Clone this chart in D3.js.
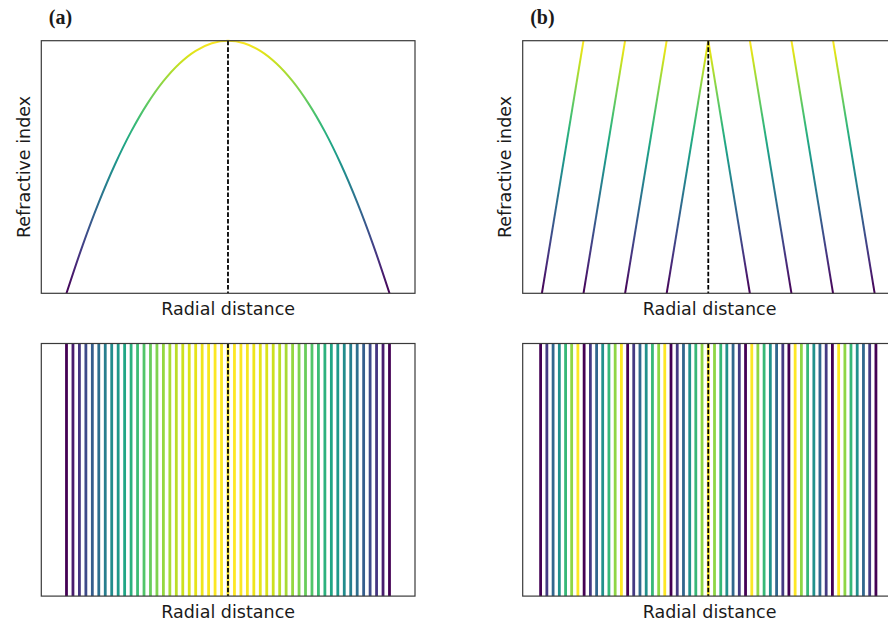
<!DOCTYPE html>
<html>
<head>
<meta charset="utf-8">
<script src="https://cdn.jsdelivr.net/npm/d3@7"></script>
<style>
  body { margin: 0; background: #fff; }
</style>
</head>
<body>
<div id="chart"></div>
<script>
// (a) graded-index profile, sampled along the radius
const profileR = [-1, -0.9, -0.8, -0.7, -0.6, -0.5, -0.4, -0.3, -0.2, -0.1, 0,
                  0.1, 0.2, 0.3, 0.4, 0.5, 0.6, 0.7, 0.8, 0.9, 1]
const profileN = [0, 0.19, 0.36, 0.51, 0.64, 0.75, 0.84, 0.91, 0.96, 0.99, 1,
                  0.99, 0.96, 0.91, 0.84, 0.75, 0.64, 0.51, 0.36, 0.19, 0]

// (b) fresnel-style zones: each zone is one straight ramp
const zoneFrom = [-1.04, -0.78, -0.52, -0.26, 0, 0.26, 0.52, 0.78]
const zoneTo   = [-0.78, -0.52, -0.26, 0, 0.26, 0.52, 0.78, 1.04]
const zoneFromN = [0, 0, 0, 0, 1, 1, 1, 1]
const zoneToN   = [1, 1, 1, 1, 0, 0, 0, 0]

// stripes for the lower panels
const stripeRa = [-1.00, -0.96, -0.92, -0.88, -0.84, -0.80, -0.76, -0.72, -0.68, -0.64, -0.60, -0.56, -0.52,
                  -0.48, -0.44, -0.40, -0.36, -0.32, -0.28, -0.24, -0.20, -0.16, -0.12, -0.08, -0.04, 0,
                  0.04, 0.08, 0.12, 0.16, 0.20, 0.24, 0.28, 0.32, 0.36, 0.40, 0.44, 0.48, 0.52,
                  0.56, 0.60, 0.64, 0.68, 0.72, 0.76, 0.80, 0.84, 0.88, 0.92, 0.96, 1.00]
const stripeNa = [0, 0.078, 0.154, 0.226, 0.294, 0.36, 0.422, 0.482, 0.538, 0.59, 0.64, 0.686, 0.73,
                  0.77, 0.806, 0.84, 0.87, 0.898, 0.922, 0.942, 0.96, 0.974, 0.986, 0.994, 0.998, 1,
                  0.998, 0.994, 0.986, 0.974, 0.96, 0.942, 0.922, 0.898, 0.87, 0.84, 0.806, 0.77, 0.73,
                  0.686, 0.64, 0.59, 0.538, 0.482, 0.422, 0.36, 0.294, 0.226, 0.154, 0.078, 0]

const stripeRb = [-1.048, -1.009, -0.970, -0.931, -0.892, -0.854, -0.815, -0.776, -0.737, -0.698,
                  -0.660, -0.621, -0.582, -0.543, -0.504, -0.466, -0.427, -0.388, -0.349, -0.310,
                  -0.272, -0.233, -0.194, -0.155, -0.116, -0.078, -0.039, 0,
                  0.039, 0.078, 0.116, 0.155, 0.194, 0.233, 0.272, 0.310, 0.349, 0.388,
                  0.427, 0.466, 0.504, 0.543, 0.582, 0.621, 0.660, 0.698, 0.737, 0.776,
                  0.815, 0.854, 0.892, 0.931, 0.970, 1.009, 1.048]
const stripeNb = [0, 0.17, 0.33, 0.5, 0.67, 0.83, 1,
                  0, 0.17, 0.33, 0.5, 0.67, 0.83, 1,
                  0, 0.17, 0.33, 0.5, 0.67, 0.83, 1,
                  0, 0.17, 0.33, 0.5, 0.67, 0.83,
                  1,
                  0.83, 0.67, 0.5, 0.33, 0.17, 0,
                  1, 0.83, 0.67, 0.5, 0.33, 0.17, 0,
                  1, 0.83, 0.67, 0.5, 0.33, 0.17, 0,
                  1, 0.83, 0.67, 0.5, 0.33, 0.17, 0]

const panelTags = ["(a)", "(b)"]
const xTitle = "Radial distance"
const yTitle = "Refractive index"

const W = 888, H = 626
const frameW = 373.7, frameH = 252.6
const colLeft = [41.3, 522.7]
const rowTop = [40.7, 343.5]
const xDomains = [[-1.156, 1.158], [-1.16, 1.176]]

const svg = d3.select("#chart")
  .append("svg")
    .attr("width", W)
    .attr("height", H)
    .style("font-family", "DejaVu Sans, sans-serif")

const y = d3.scaleLinear().domain([0, 1]).range([frameH, 0])

const defs = svg.append("defs")
const grad = defs.append("linearGradient")
    .attr("id", "viridisUp")
    .attr("gradientUnits", "userSpaceOnUse")
    .attr("x1", 0).attr("y1", y(0))
    .attr("x2", 0).attr("y2", y(1))
d3.range(0, 1.0001, 0.05).forEach(function(t) {
  grad.append("stop")
    .attr("offset", t)
    .attr("stop-color", d3.interpolateViridis(t))
})

const textColor = "#1a1a1a"

function frame(g) {
  g.append("rect")
    .attr("width", frameW)
    .attr("height", frameH)
    .attr("fill", "none")
    .attr("stroke", "#3a3a3a")
    .attr("stroke-width", 1.2)
}

function dashed(g, x) {
  g.append("line")
    .attr("x1", x(0)).attr("x2", x(0))
    .attr("y1", 0).attr("y2", frameH)
    .attr("stroke", "#000")
    .attr("stroke-width", 1.8)
    .attr("stroke-dasharray", "4.6,2")
}

function xLabel(g) {
  g.append("text")
    .attr("x", frameW / 2)
    .attr("y", frameH + 22)
    .attr("text-anchor", "middle")
    .attr("fill", textColor)
    .style("font-size", "17.5px")
    .text(xTitle)
}

function yLabel(g) {
  g.append("text")
    .attr("transform", "translate(-11.5," + (frameH / 2) + ") rotate(-90)")
    .attr("text-anchor", "middle")
    .attr("fill", textColor)
    .style("font-size", "17.5px")
    .text(yTitle)
}

function stripes(g, x, rs, ns) {
  g.selectAll("line.stripe")
    .data(rs)
    .enter()
    .append("line")
      .attr("class", "stripe")
      .attr("x1", function(d) { return x(d) })
      .attr("x2", function(d) { return x(d) })
      .attr("y1", 0)
      .attr("y2", frameH)
      .attr("stroke", function(d, i) { return d3.interpolateViridis(ns[i]) })
      .attr("stroke-width", 2.8)
}

for (let c = 0; c < 2; c++) {
  const x = d3.scaleLinear().domain(xDomains[c]).range([0, frameW])

  const top = svg.append("g")
    .attr("transform", `translate(${colLeft[c]}, ${rowTop[0]})`)

  if (c === 0) {
    const pts = profileR.map(function(r, i) { return [r, profileN[i]] })
    top.append("path")
      .datum(pts)
      .attr("d", d3.line()
        .x(function(d) { return x(d[0]) })
        .y(function(d) { return y(d[1]) })
        .curve(d3.curveCatmullRom))
      .attr("fill", "none")
      .attr("stroke", "url(#viridisUp)")
      .attr("stroke-width", 2)
  } else {
    top.selectAll("line.zone")
      .data(zoneFrom)
      .enter()
      .append("line")
        .attr("class", "zone")
        .attr("x1", function(d) { return x(d) })
        .attr("y1", function(d, i) { return y(zoneFromN[i]) })
        .attr("x2", function(d, i) { return x(zoneTo[i]) })
        .attr("y2", function(d, i) { return y(zoneToN[i]) })
        .attr("stroke", "url(#viridisUp)")
        .attr("stroke-width", 2)
  }
  dashed(top, x)
  frame(top)
  xLabel(top)
  yLabel(top)

  top.append("text")
    .attr("x", 7.5)
    .attr("y", -17)
    .attr("fill", textColor)
    .style("font-family", "Liberation Serif, Times New Roman, serif")
    .style("font-weight", "bold")
    .style("font-size", "20px")
    .text(panelTags[c])

  const bottom = svg.append("g")
    .attr("transform", `translate(${colLeft[c]}, ${rowTop[1]})`)

  if (c === 0) stripes(bottom, x, stripeRa, stripeNa)
  else stripes(bottom, x, stripeRb, stripeNb)
  dashed(bottom, x)
  frame(bottom)
  xLabel(bottom)
}
</script>
</body>
</html>
